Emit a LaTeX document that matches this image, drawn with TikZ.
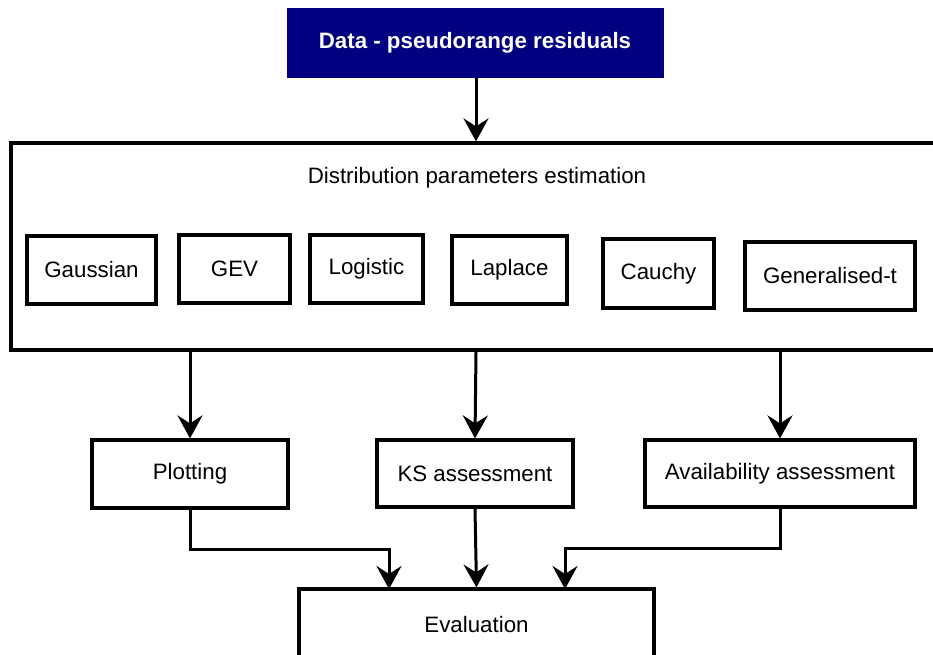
\documentclass[tikz,border=0pt]{standalone}
\usepackage{fontspec}
\setmainfont{Liberation Sans}
\usetikzlibrary{arrows.meta}
\definecolor{navyfill}{RGB}{0,0,128}
\begin{document}
\begin{tikzpicture}[x=1pt,y=-1pt,
  box/.style={draw=black, line width=3.2pt, fill=white, inner sep=0pt, font=\fontsize{22.3}{27}\selectfont},
  conn/.style={line width=3pt, -{Stealth[length=23pt,width=25pt,inset=8pt]}}]
\useasboundingbox (0,0) rectangle (933,654);
\clip (0,0) rectangle (933,654);
\fill[white] (0,0) rectangle (933,654);
% top data box
\node[draw=navyfill, fill=navyfill, line width=1pt, minimum width=376pt, minimum height=69pt, inner sep=0pt,
  text=white, font=\fontsize{22.3}{27}\selectfont\bfseries] (data) at (475,42.5) {Data - pseudorange residuals};
% big estimation box
\node[box, minimum width=934pt, minimum height=207pt] (est) at (478,246.5) {};
\node[font=\fontsize{22.3}{27}\selectfont, inner sep=0pt] (title) at (477,178) {Distribution parameters estimation};
\node[box, minimum width=129pt, minimum height=68pt] (gauss) at (91.5,270) {Gaussian};
\node[box, minimum width=111pt, minimum height=68pt] (gev) at (234.5,269) {GEV};
\node[box, minimum width=113pt, minimum height=68pt] (logi) at (366.5,269) {Logistic};
\node[box, minimum width=115pt, minimum height=68pt] (lapl) at (509.5,270) {Laplace};
\node[box, minimum width=111pt, minimum height=69pt] (cauchy) at (658.5,273.5) {Cauchy};
\node[box, minimum width=170pt, minimum height=68pt] (gent) at (830,276) {Generalised-t};
% middle row
\node[box, minimum width=196pt, minimum height=68pt] (plot) at (190,474) {Plotting};
\node[box, minimum width=196pt, minimum height=67pt] (ks) at (475,473.5) {KS assessment};
\node[box, minimum width=270pt, minimum height=67pt] (avail) at (780,473.5) {Availability assessment};
% evaluation
\node[box, minimum width=355pt, minimum height=71pt] (eval) at (476.5,624.5) {Evaluation};
\coordinate (eL) at (389,589);
\coordinate (eR) at (565,589);
% connectors
\draw[conn] (data.south -| est.north) ++(-2,0) coordinate (d0) -- (d0 |- est.north);
\draw[conn] (plot.north |- est.south) -- (plot.north);
\draw[conn] (ks.north |- est.south) ++(1,0) -- (ks.north);
\draw[conn] (avail.north |- est.south) -- (avail.north);
\draw[conn] (plot.south) -- ++(0,40) -| (eL);
\draw[conn] (ks.south) -- (eval.north);
\draw[conn] (avail.south) -- ++(0,40) -| (eR);
\end{tikzpicture}
\end{document}
